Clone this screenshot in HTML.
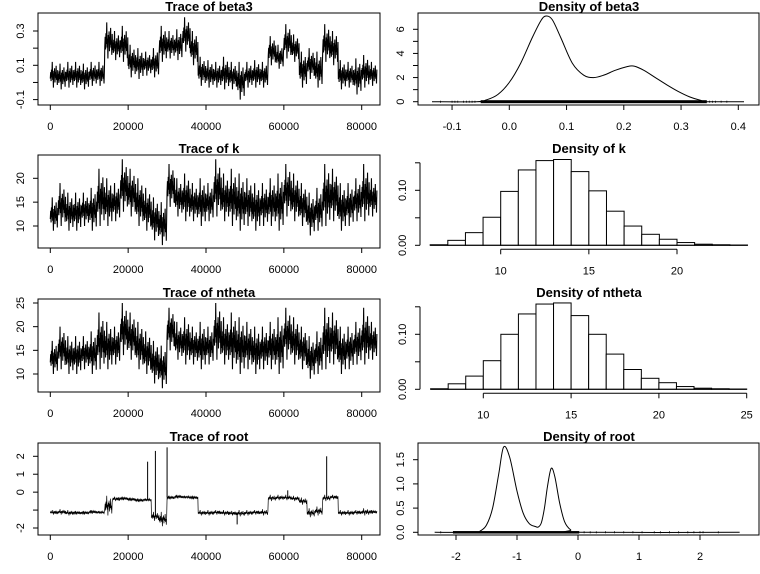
<!DOCTYPE html>
<html><head><meta charset="utf-8"><style>
html,body{margin:0;padding:0;background:#fff}
svg{display:block}
text{font-family:"Liberation Sans",sans-serif;fill:#000}
.t{font-size:13px;font-weight:bold;text-anchor:middle}
.l{font-size:11px;text-anchor:middle}
</style></head><body>
<svg id="c" width="760" height="574" viewBox="0 0 760 574"></svg>
<script>
const chunkSize = 2000;
const beta3Lo = [-0.03,-0.04,-0.03,-0.03,-0.04,-0.02,-0.02,0.14,0.13,0.12,0.03,0.02,0.04,0.03,0.12,0.14,0.13,0.18,0.1,-0.02,-0.03,-0.03,-0.04,-0.04,-0.1,-0.03,-0.03,-0.03,0.1,0.08,0.14,0.12,-0.03,0.02,-0.03,0.12,0.1,-0.04,-0.03,-0.07,-0.03,-0.02];
const beta3Hi = [0.12,0.11,0.12,0.12,0.11,0.12,0.12,0.35,0.3,0.33,0.22,0.2,0.18,0.2,0.33,0.3,0.31,0.38,0.3,0.15,0.13,0.12,0.15,0.12,0.12,0.12,0.13,0.12,0.27,0.22,0.34,0.28,0.18,0.2,0.18,0.34,0.3,0.13,0.12,0.14,0.16,0.12];
const kLo = [9,10,9,9,10,9,10,10,11,13,12,10,9,7,6,14,12,11,11,10,11,12,11,10,9,10,9,10,10,9,12,11,10,8,9,10,11,9,10,11,11,12];
const kHi = [16,19,17,17,17,18,22,20,19,24,22,20,18,16,15,23,20,21,19,20,19,24,21,22,21,20,19,19,20,21,23,21,19,17,18,23,22,19,19,20,23,20];
const nthetaLo = [10,11,10,10,11,10,11,11,12,14,13,11,10,8,7,15,13,12,12,11,12,13,12,11,10,11,10,11,11,10,13,12,11,9,10,11,12,10,11,12,12,13];
const nthetaHi = [17,20,18,18,18,19,23,21,20,25,23,21,19,17,16,24,21,22,20,21,20,25,22,23,22,21,20,20,21,22,24,22,20,18,19,24,23,20,20,21,24,21];
const rootLo = [-1.25,-1.25,-1.3,-1.25,-1.25,-1.2,-1.2,-1.3,-0.5,-0.45,-0.5,-0.55,-0.5,-1.6,-1.9,-0.4,-0.35,-0.35,-0.4,-1.3,-1.3,-1.25,-1.3,-1.3,-1.35,-1.3,-1.25,-1.3,-0.5,-0.45,-0.45,-0.5,-0.7,-1.4,-1.3,-0.5,-0.4,-1.3,-1.3,-1.25,-1.3,-1.2];
const rootHi = [-1.0,-0.95,-1.0,-1.05,-1.05,-1.0,-1.05,-0.2,-0.25,-0.25,-0.3,-0.35,-0.35,-1.1,-1.1,-0.2,-0.15,-0.2,-0.2,-1.0,-1.0,-1.0,-1.0,-1.05,-1.0,-1.0,-1.0,-0.95,-0.15,-0.15,-0.15,-0.2,-0.3,-0.9,-0.8,-0.15,-0.15,-1.0,-1.0,-1.0,-0.9,-1.0];
const rootSpikeIter = [25000,27000,30000,48000,61000,71000];
const rootSpikeVal = [1.7,2.3,2.5,-1.8,0.1,2.0];
const traceTicks = [0,20000,40000,60000,80000];
const beta3DensX = [-0.135,-0.057,-0.04,-0.02,0.0,0.02,0.04,0.055,0.064,0.075,0.09,0.11,0.13,0.147,0.165,0.185,0.205,0.218,0.235,0.255,0.275,0.295,0.315,0.335,0.345,0.41];
const beta3DensY = [0,0,0.15,0.6,1.6,3.2,5.3,6.7,7.1,6.8,5.3,3.2,2.2,2.0,2.2,2.6,2.9,2.95,2.6,2.0,1.4,0.85,0.4,0.1,0,0];
const beta3RugX = [-0.12,-0.1,-0.095,-0.09,-0.08,-0.075,-0.07,-0.065,-0.06,0.35,0.355,0.36,0.37,0.38];
const rootDensX = [-2.35,-1.7,-1.6,-1.5,-1.4,-1.3,-1.22,-1.12,-1.0,-0.9,-0.8,-0.7,-0.65,-0.6,-0.55,-0.5,-0.44,-0.38,-0.3,-0.22,-0.12,0,2.65];
const rootDensY = [0,0,0.03,0.15,0.5,1.2,1.76,1.55,0.85,0.4,0.18,0.12,0.11,0.2,0.5,0.95,1.32,1.15,0.6,0.22,0.05,0,0];
const rootRugX = [-2.25,0.1,0.2,0.3,0.45,0.6,0.75,0.9,1.05,1.25,1.35,1.5,1.65,1.8,1.9,2.0,2.05,2.3];
const kBinStart = 6;
const kDens = [0.001,0.009,0.023,0.051,0.098,0.137,0.154,0.156,0.134,0.099,0.062,0.035,0.020,0.011,0.005,0.002,0.001,0.0005];
const nthetaBinStart = 7;
const nthetaDens = [0.001,0.010,0.024,0.052,0.100,0.137,0.155,0.157,0.134,0.100,0.064,0.036,0.020,0.012,0.005,0.002,0.001,0.0005];

// rendering texture: fraction of the chunk's [lo,hi] range reached by successive strokes
const strokePattern = [0.35,0.6,0.25,0.7,0.4,1.0,0.3,0.55,0.0,0.65,0.45,0.75,0.2,0.6,0.38,0.85,0.3,0.5,0.1,0.68];

const svg = document.getElementById('c');
const NS = 'http://www.w3.org/2000/svg';
function mk(tag, attrs, parent){const e=document.createElementNS(NS,tag);for(const k in attrs)e.setAttribute(k,attrs[k]);(parent||svg).appendChild(e);return e;}
function lin(d0,d1,r0,r1){return v=>r0+(v-d0)*(r1-r0)/(d1-d0);}
function txt(s,x,y,cls,rot,parent,name){const t=mk('text',{x:x,y:y,class:cls},parent);if(rot)t.setAttribute('transform','rotate(-90 '+x+' '+y+')');t.textContent=s;


return t;}
function grp(name){const g=mk('g',{});


return g;}

function xAxis(g,X,ticks,labels,y,lblY){
  mk('line',{x1:X(ticks[0]),x2:X(ticks[ticks.length-1]),y1:y,y2:y,stroke:'#000','stroke-width':1},g);
  ticks.forEach((t,i)=>{mk('line',{x1:X(t),x2:X(t),y1:y,y2:y+5,stroke:'#000'},g);
    if(labels[i]!=='')txt(labels[i],X(t),lblY,'l',false,g,'x-tick-label');});
}
function yAxis(g,Y,ticks,labels,x){
  mk('line',{x1:x,x2:x,y1:Y(ticks[0]),y2:Y(ticks[ticks.length-1]),stroke:'#000'},g);
  ticks.forEach((t,i)=>{mk('line',{x1:x-5,x2:x,y1:Y(t),y2:Y(t),stroke:'#000'},g);
    if(labels[i]!=='')txt(labels[i],x-14,Y(t),'l',true,g,'y-tick-label');});
}
function box(g,x0,y0,x1,y1){mk('rect',{x:x0,y:y0,width:x1-x0,height:y1-y0,fill:'none',stroke:'#000'},g);}

function trace(name,title,lo,hi,yTicks,yLabels,d0,d1,p0,p1,top,bot,step,sw){
  const g=grp(name);
  const X=lin(0,80000,50.3,361.7), Y=lin(d0,d1,p0,p1);
  box(g,38,top,380,bot);
  txt(title,209,top-2,'t',false,g,'panel-title');
  let pts=[], n=0;
  for(let i=0;i<lo.length;i++){
    for(let j=0;j<chunkSize;j+=step){
      const it=i*chunkSize+j, f=strokePattern[n%strokePattern.length];
      n++;
      const v=lo[i]+f*(hi[i]-lo[i]);
      pts.push(X(it).toFixed(2)+','+Y(v).toFixed(2));
    }
  }
  const p=mk('polyline',{points:pts.join(' '),fill:'none',stroke:'#000','stroke-width':sw},g);
  
  
  xAxis(g,X,traceTicks,traceTicks.map(String),bot,bot+25);
  yAxis(g,Y,yTicks,yLabels,38);
  return {g,X,Y};
}

trace('trace-beta3','Trace of beta3',beta3Lo,beta3Hi,[-0.1,0,0.1,0.2,0.3],['-0.1','','0.1','','0.3'],0.1,0.3,65.3,31,13,105,100,1.1);
trace('trace-k','Trace of k',kLo,kHi,[10,15,20],['10','15','20'],10,20,226,178.3,155,248,100,1.1);
trace('trace-ntheta','Trace of ntheta',nthetaLo,nthetaHi,[10,15,20,25],['10','15','20','25'],10,25,374,303,299,392,100,1.1);
const r=trace('trace-root','Trace of root',rootLo,rootHi,[-2,-1,0,1,2],['-2','','0','1','2'],-2,2,528,456.3,443,535,100,0.7);
rootSpikeIter.forEach((it,i)=>{
  const base=(rootLo[Math.floor(it/chunkSize)]+rootHi[Math.floor(it/chunkSize)])/2;
  const l=mk('line',{x1:r.X(it),x2:r.X(it),y1:r.Y(base),y2:r.Y(rootSpikeVal[i]),stroke:'#000','stroke-width':1},r.g);
  
  
});

function smoothPath(pts){
  let d='M'+pts[0][0].toFixed(2)+','+pts[0][1].toFixed(2);
  for(let i=0;i<pts.length-1;i++){
    const p0=pts[Math.max(0,i-1)],p1=pts[i],p2=pts[i+1],p3=pts[Math.min(pts.length-1,i+2)];
    const c1x=p1[0]+(p2[0]-p0[0])/6,c1y=p1[1]+(p2[1]-p0[1])/6;
    const c2x=p2[0]-(p3[0]-p1[0])/6,c2y=p2[1]-(p3[1]-p1[1])/6;
    d+=' C'+c1x.toFixed(2)+','+c1y.toFixed(2)+' '+c2x.toFixed(2)+','+c2y.toFixed(2)+' '+p2[0].toFixed(2)+','+p2[1].toFixed(2);
  }
  return d;
}

function density(name,title,xs,ys,X,Y,top,bot,xTicks,xLabels,yTicks,yLabels,rugX,rugLo,rugHi,rugH){
  const g=grp(name);
  box(g,418,top,759,bot);
  txt(title,589,top-2,'t',false,g,'panel-title');
  const rr=mk('rect',{x:X(rugLo),y:Y(0)-rugH/2,width:X(rugHi)-X(rugLo),height:rugH,fill:'#000'},g);
  
  
  rugX.forEach(v=>{mk('line',{x1:X(v),x2:X(v),y1:Y(0)-1,y2:Y(0)+1,stroke:'#000','stroke-width':0.8},g);});
  const pts=xs.map((x,i)=>[X(x),Math.min(Y(0),Y(ys[i]))]);
  const p=mk('path',{d:smoothPath(pts),fill:'none',stroke:'#000','stroke-width':1},g);
  
  
  xAxis(g,X,xTicks,xLabels,bot,bot+25);
  yAxis(g,Y,yTicks,yLabels,418);
}
density('density-beta3','Density of beta3',beta3DensX,beta3DensY,lin(0,0.4,509.3,738.3),lin(0,6,101.7,29.3),13,105,
  [-0.1,0,0.1,0.2,0.3,0.4],['-0.1','0.0','0.1','0.2','0.3','0.4'],[0,1,2,3,4,5,6],['0','','2','','4','','6'],beta3RugX,-0.05,0.345,3);
density('density-root','Density of root',rootDensX,rootDensY,lin(-2,2,456,700),lin(0,1.5,532.3,459.7),443,535,
  [-2,-1,0,1,2],['-2','-1','0','1','2'],[0,0.5,1,1.5],['0.0','0.5','1.0','1.5'],rootRugX,-2.05,0.02,2.5);

function hist(name,title,start,dens,X,Y,top,xTicks,yTicks,yLabels){
  const g=grp(name);
  txt(title,589,top-2,'t',false,g,'panel-title');
  dens.forEach((d,i)=>{
    const b=mk('rect',{x:X(start+i),y:Y(d),width:X(start+i+1)-X(start+i),height:Y(0)-Y(d),fill:'#fff',stroke:'#000','stroke-width':1},g);
    
    
  });
  mk('line',{x1:X(start),x2:X(start+dens.length),y1:Y(0),y2:Y(0),stroke:'#000'},g);
  xAxis(g,X,xTicks,xTicks.map(String),Y(0)+4,Y(0)+29);
  yAxis(g,Y,yTicks,yLabels,420);
}
hist('density-k','Density of k',kBinStart,kDens,lin(10,20,500.7,677),lin(0,0.1,245.3,190.3),155,[10,15,20],[0,0.05,0.1,0.15],['0.00','','0.10','']);
hist('density-ntheta','Density of ntheta',nthetaBinStart,nthetaDens,lin(10,25,483.3,746.7),lin(0,0.1,389.3,334.3),299,[10,15,20,25],[0,0.05,0.1,0.15],['0.00','','0.10','']);
</script>
</body></html>
